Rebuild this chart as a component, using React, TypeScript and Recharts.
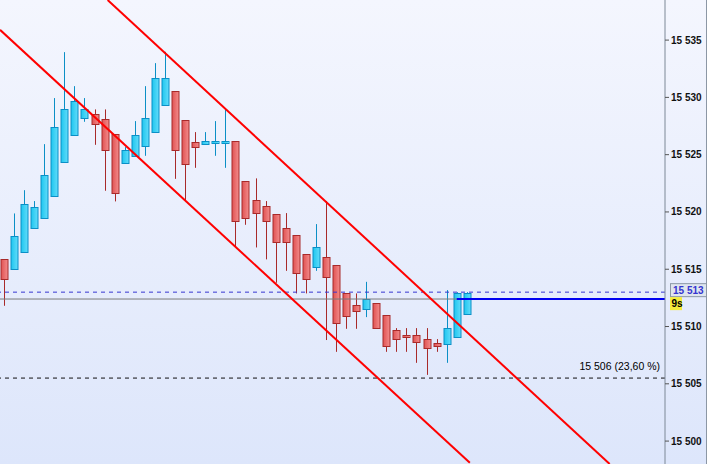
import React from 'react';
import { ComposedChart, Bar, XAxis, YAxis, ReferenceLine } from 'recharts';

// candle values, left to right
const opens = [
  15515.86, 15514.98, 15516.47, 15518.56, 15519.44, 15521.36, 15524.32, 15526.68, 15528.16, 15528.51,
  15528.08, 15526.77, 15524.24, 15524.85, 15525.72, 15526.94, 15529.3, 15530.52, 15527.99, 15526.07,
  15525.9, 15525.98, 15526.04, 15526.16, 15522.67, 15521.0, 15520.48, 15519.78, 15518.56, 15517.95,
  15516.32, 15515.21, 15516.03, 15515.33, 15512.89, 15511.87, 15511.55, 15512.02, 15510.97, 15509.69,
  15509.22, 15509.22, 15508.87, 15508.53, 15508.44, 15509.1, 15511.06,
];
const highs = [
  15515.86, 15519.87, 15521.9, 15520.95, 15525.92, 15529.94, 15533.95, 15530.98, 15529.94, 15528.95,
  15528.95, 15526.77, 15525.66, 15527.93, 15530.98, 15532.99, 15533.98, 15530.52, 15527.99, 15526.97,
  15526.97, 15527.93, 15528.98, 15526.16, 15522.67, 15522.93, 15520.95, 15519.78, 15519.9, 15517.95,
  15516.32, 15518.94, 15520.95, 15515.33, 15512.89, 15512.89, 15513.9, 15512.02, 15510.97, 15509.86,
  15509.86, 15509.86, 15509.86, 15508.9, 15513.18, 15513.0, 15513.0,
];
const lows = [
  15511.81, 15514.98, 15516.47, 15518.56, 15519.44, 15521.36, 15524.32, 15526.68, 15527.87, 15525.86,
  15521.85, 15520.92, 15524.24, 15524.85, 15524.9, 15526.94, 15529.3, 15522.89, 15520.97, 15523.85,
  15525.9, 15524.9, 15523.85, 15516.96, 15518.88, 15516.9, 15515.86, 15513.82, 15514.86, 15512.89,
  15512.89, 15514.86, 15508.82, 15507.79, 15509.8, 15509.8, 15510.82, 15509.83, 15507.79, 15507.79,
  15507.79, 15506.83, 15505.78, 15507.79, 15506.83, 15509.1, 15511.06,
];
const closes = [
  15514.11, 15517.89, 15520.68, 15520.4, 15523.19, 15527.38, 15528.95, 15529.65, 15528.95, 15527.64,
  15525.37, 15521.62, 15525.37, 15526.68, 15528.16, 15531.66, 15531.66, 15525.37, 15524.15, 15525.63,
  15526.16, 15526.16, 15526.16, 15519.17, 15519.44, 15519.87, 15519.17, 15517.39, 15517.39, 15514.64,
  15514.11, 15516.9, 15514.34, 15510.33, 15510.88, 15511.37, 15512.37, 15509.83, 15508.32, 15508.87,
  15509.1, 15508.61, 15508.09, 15508.32, 15509.83, 15512.89, 15512.89,
];

const priceTicks = [15500, 15505, 15510, 15515, 15520, 15525, 15530, 15535];

// channel end points (candle index, price)
const upperChannel = [{ x: 10.3, y: 15538.5 }, { x: 60.2, y: 15498 }];
const lowerChannel = [{ x: -0.4, y: 15535.9 }, { x: 46.3, y: 15498.1 }];

const askLevel = 15513;
const bidLevel = 15512.4;
const fiboLevel = 15505.5;
const fiboText = '15 506 (23,60 %)';
const lastPriceText = '15 513';
const timerText = '9s';

const candles = opens.map((o, i) => ({
  i,
  range: [lows[i], highs[i]],
  o,
  h: highs[i],
  l: lows[i],
  c: closes[i],
}));

const fmt = (v: number) => {
  const s = String(Math.round(v));
  return s.slice(0, s.length - 3) + ' ' + s.slice(-3);
};

const PriceTick = (props: any) => {
  const { x, y, payload } = props;
  return (
    <text x={x} y={y} dy={3.5} fontSize={10} fontWeight="bold" fill="#111" fontFamily="Liberation Sans">
      {fmt(payload.value)}
    </text>
  );
};

const Candle = (props: any) => {
  const { x, y, width, height, payload } = props;
  const { o, h, l, c } = payload;
  const top = Math.min(y, y + height);
  const k = Math.abs(height) / (h - l);
  const py = (v: number) => top + (h - v) * k;
  const cx = Math.round(x + width / 2) + 0.5;
  const up = c >= o;
  const stroke = up ? '#0b8fc6' : '#a82a2a';
  const bTop = Math.round(py(Math.max(o, c))) + 0.5;
  const bBot = Math.round(py(Math.min(o, c))) + 0.5;
  return (
    <g>
      <line x1={cx} x2={cx} y1={py(h)} y2={py(l)} stroke={stroke} strokeWidth={1} />
      <rect
        x={cx - 3.5}
        y={bTop}
        width={7}
        height={Math.max(bBot - bTop, 1)}
        fill={up ? 'url(#upFill)' : 'url(#downFill)'}
        stroke={stroke}
        strokeWidth={1}
      />
    </g>
  );
};

const PriceTag = (props: any) => {
  const vb = props.viewBox || {};
  const left = vb.x + vb.width + 5;
  const y = vb.y;
  return (
    <g>
      <rect x={left + 0.5} y={y - 8.5} width={36} height={13} fill="#dfe5ee" stroke="#8c99a8" />
      <text x={left + 3} y={y + 2} fontSize={10} fontWeight="bold" fill="#3535d0" fontFamily="Liberation Sans">
        {lastPriceText}
      </text>
      <rect x={left} y={y + 5} width={12} height={13} fill="#f5ec3c" />
      <text x={left + 1.5} y={y + 15} fontSize={10} fontWeight="bold" fill="#000" fontFamily="Liberation Sans">
        {timerText}
      </text>
    </g>
  );
};

const FiboLabel = (props: any) => {
  const vb = props.viewBox || {};
  return (
    <text
      x={vb.x + vb.width - 5}
      y={vb.y - 8}
      textAnchor="end"
      fontSize={10.5}
      fill="#000"
      fontFamily="Liberation Sans"
    >
      {fiboText}
    </text>
  );
};

export default function App() {
  return (
    <div
      style={{
        position: 'absolute',
        left: 0,
        top: 0,
        width: 707,
        height: 464,
        background: 'linear-gradient(#f4f6fe, #dde6fb)',
      }}
    >
      <ComposedChart width={707} height={464} data={candles} margin={{ top: 0, right: 0, left: 0, bottom: 0 }}>
        <defs>
          <linearGradient id="upFill" x1="0" y1="0" x2="1" y2="0">
            <stop offset="0%" stopColor="#1ec6ef" />
            <stop offset="100%" stopColor="#62dcfa" />
          </linearGradient>
          <linearGradient id="downFill" x1="0" y1="0" x2="1" y2="0">
            <stop offset="0%" stopColor="#e05252" />
            <stop offset="100%" stopColor="#f38c8c" />
          </linearGradient>
        </defs>
        <XAxis dataKey="i" type="number" domain={[-0.4, 65.7]} hide allowDataOverflow />
        <YAxis
          orientation="right"
          width={42}
          domain={[15498, 15538.5]}
          allowDataOverflow
          ticks={priceTicks}
          tickSize={4}
          tickMargin={2}
          axisLine={{ stroke: '#7d8896' }}
          tickLine={{ stroke: '#555' }}
          tick={<PriceTick />}
        />
        <ReferenceLine y={bidLevel} stroke="#7a7a7a" strokeWidth={1} />
        <ReferenceLine y={askLevel} stroke="#3535d0" strokeDasharray="4 4" label={<PriceTag />} />
        <ReferenceLine y={fiboLevel} stroke="#111" strokeDasharray="4 4" label={<FiboLabel />} />
        <Bar dataKey="range" barSize={10} shape={<Candle />} isAnimationActive={false} />
        <ReferenceLine
          segment={[{ x: 45, y: bidLevel }, { x: 65.7, y: bidLevel }]}
          stroke="#0000f0"
          strokeWidth={2}
          ifOverflow="hidden"
        />
        <ReferenceLine segment={upperChannel} stroke="#ff0000" strokeWidth={2} ifOverflow="hidden" />
        <ReferenceLine segment={lowerChannel} stroke="#ff0000" strokeWidth={2} ifOverflow="hidden" />
      </ComposedChart>
      <div style={{ position: 'absolute', left: 706, top: 0, width: 1, height: 464, background: '#8c97a5' }} />
    </div>
  );
}
